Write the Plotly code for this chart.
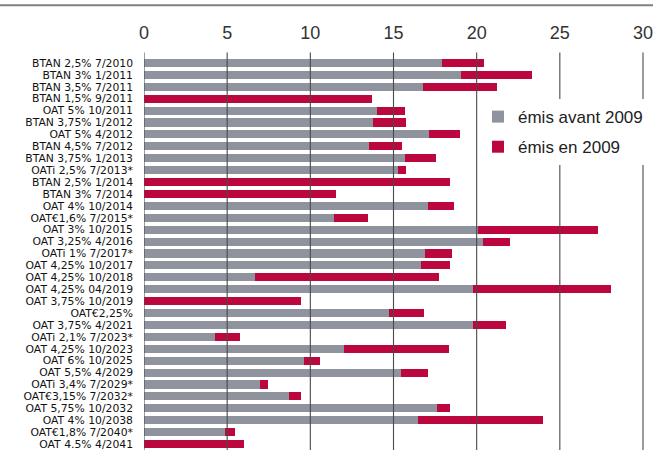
import plotly.graph_objects as go

# Bond lines (top to bottom) and amounts in billions of euros
obligations = [
    "BTAN 2,5% 7/2010", "BTAN 3% 1/2011", "BTAN 3,5% 7/2011", "BTAN 1,5% 9/2011",
    "OAT 5% 10/2011", "BTAN 3,75% 1/2012", "OAT 5% 4/2012", "BTAN 4,5% 7/2012",
    "BTAN 3,75% 1/2013", "OATi 2,5% 7/2013*", "BTAN 2,5% 1/2014", "BTAN 3% 7/2014",
    "OAT 4% 10/2014", "OAT€1,6% 7/2015*", "OAT 3% 10/2015", "OAT 3,25% 4/2016",
    "OATi 1% 7/2017*", "OAT 4,25% 10/2017", "OAT 4,25% 10/2018", "OAT 4,25% 04/2019",
    "OAT 3,75% 10/2019", "OAT€2,25%", "OAT 3,75% 4/2021", "OATi 2,1% 7/2023*",
    "OAT 4,25% 10/2023", "OAT 6% 10/2025", "OAT 5,5% 4/2029", "OATi 3,4% 7/2029*",
    "OAT€3,15% 7/2032*", "OAT 5,75% 10/2032", "OAT 4% 10/2038", "OAT€1,8% 7/2040*",
    "OAT 4.5% 4/2041",
]
emis_avant_2009 = [
    17.9, 19.05, 16.8, 0, 14.0, 13.75, 17.15, 13.55,
    15.7, 15.25, 0, 0, 17.05, 11.4, 20.05, 20.4,
    16.9, 16.65, 6.7, 19.8, 0, 14.7, 19.8, 4.25,
    12.0, 9.6, 15.45, 6.95, 8.7, 17.6, 16.5, 4.85, 0,
]
emis_en_2009 = [
    2.55, 4.3, 4.4, 13.7, 1.7, 2.0, 1.85, 1.95,
    1.85, 0.5, 18.4, 11.55, 1.6, 2.05, 7.25, 1.6,
    1.6, 1.75, 11.05, 8.25, 9.45, 2.15, 1.95, 1.5,
    6.35, 1.0, 1.6, 0.5, 0.75, 0.8, 7.5, 0.65, 6.0,
]
x_ticks = [0, 5, 10, 15, 20, 25, 30]

GRAY = "#8F939E"
RED = "#BB073E"
GRID = "#4a4a4a"
NARROW = "Liberation Sans Narrow, Arial Narrow, Liberation Sans, Arial, sans-serif"
WIDE = "DejaVu Sans, Liberation Sans, Arial, sans-serif"

W, H = 653, 450
L, R, T, B = 144, 9, 56.5, 0
plot_w = W - L - R
plot_h = H - T - B

fig = go.Figure()
fig.add_trace(go.Bar(
    y=obligations, x=emis_avant_2009, orientation="h", name="émis avant 2009",
    marker=dict(color=GRAY, line=dict(width=0)), legendgroup="a",
))
fig.add_trace(go.Bar(
    y=obligations, x=emis_en_2009, orientation="h", name="émis en 2009",
    marker=dict(color=RED, line=dict(width=0)), legendgroup="b",
))

# vertical grid drawn over the bars, reaching slightly above the plot area
grid_top = 1 + (T - 52) / plot_h
shapes = [
    dict(type="line", xref="x", yref="paper", x0=v, x1=v, y0=0, y1=grid_top,
         line=dict(color=GRID, width=1.1), layer="above")
    for v in x_ticks
]
# grey rule across the top of the figure
top_y = 1 + (T - 4.8) / plot_h
shapes.append(dict(type="line", xref="paper", yref="paper",
                   x0=-L / plot_w, x1=1 + R / plot_w + 0.01,
                   y0=top_y, y1=top_y, line=dict(color="#808080", width=2)))

fig.update_layout(
    width=W, height=H,
    margin=dict(l=L, r=R, t=T, b=B, pad=0, autoexpand=False),
    barmode="stack", bargap=0.32,
    plot_bgcolor="white", paper_bgcolor="white",
    showlegend=True,
    legend=dict(
        x=(478 - L) / plot_w, y=0.893, xanchor="left", yanchor="top",
        bgcolor="white", borderwidth=0,
        font=dict(family=NARROW, size=17, color="#222"),
        traceorder="grouped", tracegroupgap=5,
        itemclick=False,
    ),
    xaxis=dict(
        side="top", range=[0, 30.06], tickvals=x_ticks,
        showgrid=False, zeroline=False, showline=False,
        ticks="", ticklabelstandoff=13, automargin=False,
        ticklabeloverflow="allow",
        tickfont=dict(family=NARROW, size=18, color="#333"),
        fixedrange=True,
    ),
    yaxis=dict(
        type="category", range=[32.5, -0.5],
        tickmode="array", tickvals=obligations, ticktext=obligations,
        showgrid=False, zeroline=False, showline=False,
        ticks="", ticklabelstandoff=10, automargin=False,
        tickfont=dict(family=WIDE, size=10.8, color="#111"),
        fixedrange=True,
    ),
    shapes=shapes,
)

fig.write_html("out.html")
